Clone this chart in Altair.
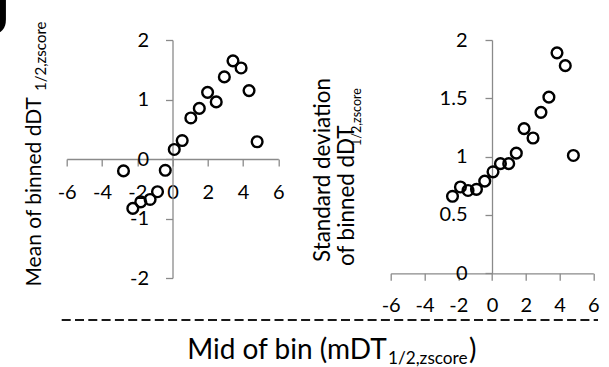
import altair as alt
import pandas as pd

# ---- data ----
left_x = [-2.78, -2.25, -1.80, -1.27, -0.85, -0.41, 0.10, 0.55, 1.04, 1.52, 1.99, 2.48, 2.94, 3.43, 3.89, 4.34, 4.80]
left_y = [-0.20, -0.83, -0.72, -0.68, -0.55, -0.19, 0.16, 0.31, 0.69, 0.85, 1.12, 0.96, 1.38, 1.65, 1.53, 1.15, 0.29]

right_x = [-2.34, -1.87, -1.42, -0.92, -0.43, 0.06, 0.50, 0.99, 1.44, 1.90, 2.43, 2.90, 3.37, 3.85, 4.34, 4.82]
right_y = [0.66, 0.74, 0.71, 0.72, 0.79, 0.87, 0.94, 0.94, 1.03, 1.24, 1.16, 1.38, 1.51, 1.89, 1.78, 1.01]

x_ticks = [-6, -4, -2, 0, 2, 4, 6]
left_y_ticks = [-2, -1, 0, 1, 2]
right_y_ticks = [0, 0.5, 1, 1.5, 2]

left_df = pd.DataFrame({"mid": left_x, "mean": left_y})
right_df = pd.DataFrame({"mid": right_x, "sd": right_y})

# ---- layout (pixels, relative to the plot origin) ----
LW, LH = 211.6, 238.0
RX0, RW, RH = 324.0, 202.6, 233.3
H = 238.0
FONT = "Lato"
GREY = "#8a8a8a"

axis_common = dict(
    grid=False, title=None, domainColor=GREY, tickColor=GREY,
    domainWidth=1.3, tickWidth=1.3, tickSize=7,
    labelFont=FONT, labelFontSize=20, labelColor="black",
    labelExpr="'' + datum.value", labelFlush=False, labelOverlap=False,
)

pt = dict(shape="circle", filled=False, color="black", strokeWidth=2.4, size=115, opacity=1)

left_pts = alt.Chart(left_df).mark_point(**pt).encode(
    x=alt.X("mid:Q", scale=alt.Scale(domain=[-6, 6], range=[0, LW], nice=False, zero=False),
            axis=alt.Axis(values=x_ticks, orient="bottom", offset=-(H - LH / 2), labelPadding=16, **axis_common)),
    y=alt.Y("mean:Q", scale=alt.Scale(domain=[-2, 2], range=[LH, 0], nice=False, zero=False),
            axis=alt.Axis(values=left_y_ticks, orient="left", offset=-LW / 2, labelPadding=17, **axis_common)),
)

right_pts = alt.Chart(right_df).mark_point(**pt).encode(
    x=alt.X("mid:Q", scale=alt.Scale(domain=[-6, 6], range=[RX0, RX0 + RW], nice=False, zero=False),
            axis=alt.Axis(values=x_ticks, orient="bottom", offset=-(H - RH), labelPadding=15, **axis_common)),
    y=alt.Y("sd:Q", scale=alt.Scale(domain=[0, 2], range=[RH, 0], nice=False, zero=False),
            axis=alt.Axis(values=right_y_ticks, orient="left", offset=-(RX0 + RW / 2), labelPadding=18, **axis_common)),
)


def txt(text, x, y, size, angle=0, align="left", weight="normal"):
    return alt.Chart(alt.Data(values=[{}])).mark_text(
        text=text, font=FONT, fontSize=size, angle=angle, align=align,
        baseline="alphabetic", fontWeight=weight, color="black",
    ).encode(x=alt.value(x), y=alt.value(y))


ox, oy = 66.7, 40.0  # plot origin in the page

texts = [
    txt("J", 10 - ox, 34 - oy, 56, weight="bold", align="right"),
    txt("Mean of binned dDT", 41 - ox, 97 - oy, 21, angle=270, align="right"),
    txt("1/2,zscore", 46.5 - ox, 91 - oy, 15, angle=270, align="left"),
    txt("Standard deviation", 330 - ox, 170 - oy, 22.4, angle=270, align="center"),
    txt("of binned dDT", 354 - ox, 266 - oy, 22.4, angle=270, align="left"),
    txt("1/2,zscore", 360.5 - ox, 146 - oy, 12.5, angle=270, align="left"),
    txt("Mid of bin (mDT", 386.7 - ox, 358.5 - oy, 28, align="right"),
    txt("1/2,zscore", 388 - ox, 363.5 - oy, 17.2, align="left"),
    txt(")", 469 - ox, 358.5 - oy, 28, align="left"),
]

dash = alt.Chart(alt.Data(values=[{}])).mark_rule(
    color="#1a1a1a", strokeWidth=1.8, strokeDash=[9, 4.3]
).encode(x=alt.value(61.7 - ox), x2=alt.value(598 - ox), y=alt.value(320 - oy))

chart = alt.layer(left_pts, right_pts, dash, *texts).resolve_scale(
    x="independent", y="independent"
).properties(
    width=RX0 + RW, height=H,
    autosize=alt.AutoSizeParams(type="none"),
    padding={"left": ox, "top": oy, "right": 609 - ox - (RX0 + RW), "bottom": 367 - oy - H},
    background="white",
).configure_view(stroke=None)

chart.save("out.html", embed_options={"renderer": "svg", "actions": False})
